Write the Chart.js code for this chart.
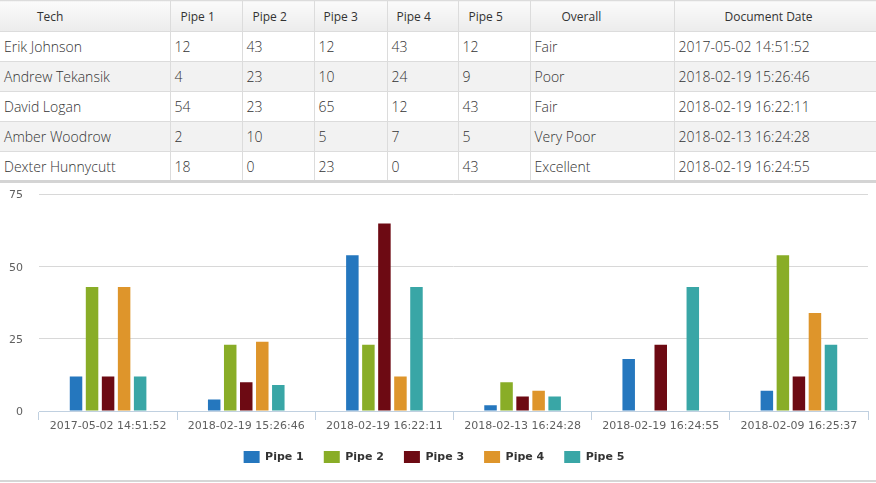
<!DOCTYPE html>
<html>
<head>
<meta charset="utf-8">
<script src="https://cdn.jsdelivr.net/npm/chart.js@4/dist/chart.umd.min.js"></script>
<style>
  html, body { margin: 0; padding: 0; background: #fff; }
  #tabla { border-collapse: collapse; table-layout: fixed; width: 876px; font-family: "Open Sans", sans-serif; }
  #tabla th, #tabla td { box-sizing: border-box; }
  #tabla th { height: 31px; font-size: 12px; font-weight: 400; color: #333; text-align: left; padding: 0;
    background: linear-gradient(#fbfbfb, #ececec); border: 1px solid #dcdcdc; }
  #tabla td { height: 30px; font-size: 14px; font-weight: 300; color: #333; padding: 0 0 0 4px; border: 1px solid #dcdcdc; }
  #tabla tr > *:first-child { border-left: none; }
  #tabla tr > *:last-child { border-right: none; }
  #tabla tbody tr:nth-child(even) td { background: #f2f2f2; }
  #tabla tbody tr:last-child td { border-bottom: 3px solid #d4d4d4; }
  #grafico-box { position: relative; width: 876px; height: 297px; border-bottom: 2px solid #d6d6d6; }
  #myChart { position: absolute; left: 0; top: -11px; }
</style>
</head>
<body>
<table id="tabla"><colgroup id="columnas"></colgroup><thead><tr id="cabecera"></tr></thead><tbody id="cuerpo"></tbody></table>
<div id="grafico-box"><canvas id="myChart" width="876" height="308"></canvas></div>
<script>
//Datos de la tabla y del grafico
const encabezados = ["Tech", "Pipe 1", "Pipe 2", "Pipe 3", "Pipe 4", "Pipe 5", "Overall", "Document Date"];
const tecnicos = ["Erik Johnson", "Andrew Tekansik", "David Logan", "Amber Woodrow", "Dexter Hunnycutt"];
const evaluacion = ["Fair", "Poor", "Fair", "Very Poor", "Excellent"];
const fechas = ["2017-05-02 14:51:52", "2018-02-19 15:26:46", "2018-02-19 16:22:11", "2018-02-13 16:24:28", "2018-02-19 16:24:55", "2018-02-09 16:25:37"];
const pipe1 = [12, 4, 54, 2, 18, 7];
const pipe2 = [43, 23, 23, 10, 0, 54];
const pipe3 = [12, 10, 65, 5, 23, 12];
const pipe4 = [43, 24, 12, 7, 0, 34];
const pipe5 = [12, 9, 43, 5, 43, 23];
const ticksY = [0, 25, 50, 75];

//Estilos
const anchosColumnas = [170, 72, 72, 73, 71, 72, 144, 202];
const sangriaCabecera = [37, 10, 10, 9, 9, 10, 31, 50];
const coloresPipes = ["#2577be", "#89ad27", "#6d0a13", "#de952b", "#39a6a6"];

const pipes = [pipe1, pipe2, pipe3, pipe4, pipe5];

//Armar tabla
document.getElementById("columnas").innerHTML = anchosColumnas.map((w) => `<col style="width:${w}px">`).join("");

let htmlCab = "";
encabezados.forEach((titulo, i) => {
  htmlCab += `<th style="padding-left:${sangriaCabecera[i]}px">${titulo}</th>`;
});
document.getElementById("cabecera").innerHTML = htmlCab;

let htmlCuerpo = "";
tecnicos.forEach((nombre, i) => {
  htmlCuerpo += `<tr><td>${nombre}</td>`;
  pipes.forEach((pipe) => {
    htmlCuerpo += `<td>${pipe[i]}</td>`;
  });
  htmlCuerpo += `<td>${evaluacion[i]}</td><td>${fechas[i]}</td></tr>`;
});
document.getElementById("cuerpo").innerHTML = htmlCuerpo;

//Grafico
const fuenteEje = { family: "'DejaVu Sans', sans-serif", size: 11 };

const configData = {
  labels: fechas,
  datasets: pipes.map((pipe, i) => ({
    label: "Pipe " + (i + 1),
    data: pipe,
    backgroundColor: coloresPipes[i],
    borderWidth: 0,
    categoryPercentage: 0.58,
    barPercentage: 0.78,
  })),
};

const config = {
  type: "bar",
  data: configData,
  options: {
    responsive: false,
    animation: false,
    devicePixelRatio: 1,
    layout: { padding: { left: 0, right: 8, top: 0, bottom: 7 } },
    plugins: {
      tooltip: { enabled: false },
      legend: {
        position: "bottom",
        labels: {
          boxWidth: 16,
          boxHeight: 12,
          padding: 20,
          color: "#333",
          font: { family: "'DejaVu Sans', sans-serif", size: 11, weight: "bold" },
        },
      },
    },
    scales: {
      x: {
        afterFit: (scale) => { scale.height = 20; },
        grid: { display: true, drawOnChartArea: false, drawTicks: true, tickLength: 9, color: "#c0d0e0", offset: true },
        border: { color: "#c0d0e0", width: 1 },
        ticks: { color: "#606060", font: fuenteEje, padding: 0, maxRotation: 0, autoSkip: false },
      },
      y: {
        min: 0,
        max: 75,
        afterBuildTicks: (scale) => { scale.ticks = ticksY.map((v) => ({ value: v })); },
        afterFit: (scale) => { scale.width = 39; },
        grid: { color: "#d8d8d8", drawTicks: false },
        border: { display: false },
        ticks: { color: "#606060", font: fuenteEje, padding: 16, labelOffset: 1 },
      },
    },
  },
};

new Chart(document.getElementById("myChart"), config);
</script>
</body>
</html>
